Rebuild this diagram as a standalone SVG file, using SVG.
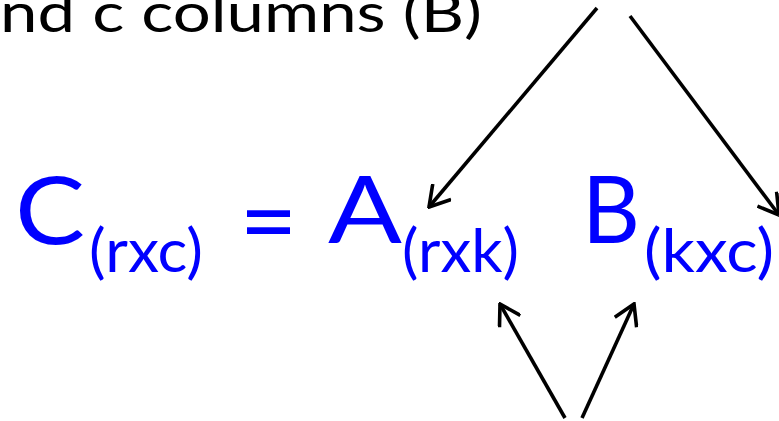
<svg xmlns="http://www.w3.org/2000/svg" width="779" height="421" viewBox="0 0 779 421">
<defs>
<style>
.lbl{font-family:Lato,"Open Sans","Liberation Sans",sans-serif;fill:#000000;}
.m{font-family:Lato,"Open Sans","Liberation Sans",sans-serif;fill:#0000FF;}
.big{font-size:93px;}
.sub{font-size:60px;}
.conn line{stroke:#000000;stroke-width:3.6;fill:none;marker-end:url(#ah);}
</style>
<marker id="ah" viewBox="0 0 26 26" markerWidth="26" markerHeight="26" refX="24" refY="13" orient="auto" markerUnits="userSpaceOnUse">
<path d="M4,1 L24,13 L4,25" fill="none" stroke="#000000" stroke-width="3.6" stroke-linejoin="miter"/>
</marker>
</defs>
<rect width="779" height="421" fill="#ffffff"/>
<g id="caption">
<text class="lbl" x="0" y="32" font-size="55" textLength="482" lengthAdjust="spacingAndGlyphs">nd c columns (B)</text>
</g>
<g id="C">
<text class="m big" x="15" y="244" textLength="70" lengthAdjust="spacingAndGlyphs">C</text>
<text class="m sub" x="89" y="272" textLength="114" lengthAdjust="spacingAndGlyphs">(rxc)</text>
</g>
<g id="eq">
<text class="m" x="268.5" y="256" font-size="100" text-anchor="middle">=</text>
</g>
<g id="A">
<text class="m big" x="328" y="243" textLength="74" lengthAdjust="spacingAndGlyphs">A</text>
<text class="m sub" x="402" y="272" textLength="117" lengthAdjust="spacingAndGlyphs">(rxk)</text>
</g>
<g id="B">
<text class="m big" x="582" y="243" textLength="58" lengthAdjust="spacingAndGlyphs">B</text>
<text class="m sub" x="644" y="272" textLength="130" lengthAdjust="spacingAndGlyphs">(kxc)</text>
</g>
<g id="connectors" class="conn">
<line x1="597" y1="8" x2="429" y2="207"/>
<line x1="630" y1="16" x2="779" y2="215"/>
<line x1="565" y1="418" x2="500" y2="304"/>
<line x1="582" y1="418" x2="634" y2="304"/>
</g>
</svg>
